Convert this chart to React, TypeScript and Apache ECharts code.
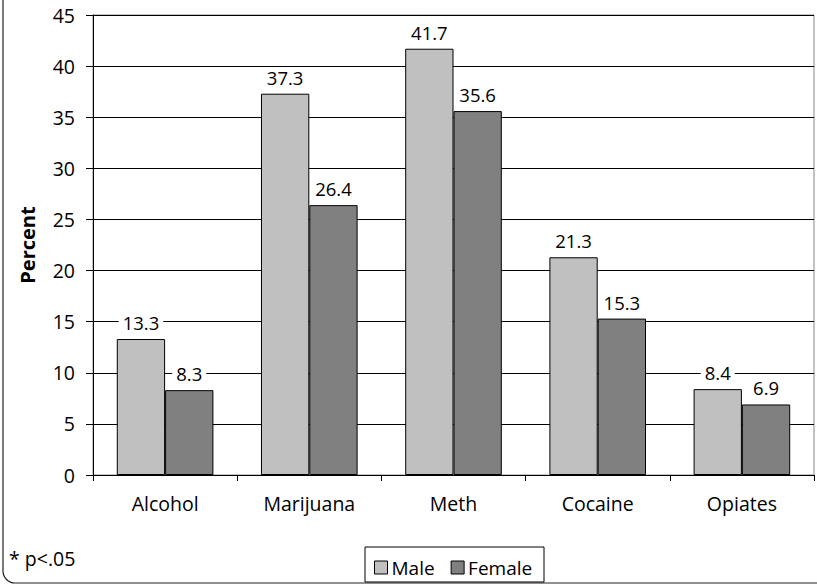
import React, { useEffect, useRef } from "react";
import * as echarts from "echarts";

const categories = ["Alcohol", "Marijuana", "Meth", "Cocaine", "Opiates"];
const maleValues = [13.3, 37.3, 41.7, 21.3, 8.4];
const femaleValues = [8.3, 26.4, 35.6, 15.3, 6.9];
const seriesNames = ["Male", "Female"];
const footnote = "* p<.05";
const yAxisTitle = "Percent";

const FONT = "'Open Sans', 'DejaVu Sans', sans-serif";

export default function App() {
  const ref = useRef<HTMLDivElement>(null);
  useEffect(() => {
    if (!ref.current) return;
    const chart = echarts.init(ref.current, null, { renderer: "svg" });
    const labelCfg = {
      show: true,
      position: "top",
      distance: 7,
      color: "#000",
      fontSize: 18.5,
      fontFamily: FONT,
      backgroundColor: "#fff",
      padding: [0, 4],
    };
    chart.setOption({
      animation: false,
      backgroundColor: "#fff",
      textStyle: { fontFamily: FONT },
      grid: {
        left: 93,
        right: 3,
        top: 15,
        bottom: 109,
        show: true,
        borderColor: "#888",
        borderWidth: 1,
      },
      graphic: [
        {
          type: "rect",
          shape: { x: 3, y: -30, width: 900, height: 613, r: 12 },
          style: { fill: "none", stroke: "#222", lineWidth: 1.2 },
          silent: true,
        },
        {
          type: "text",
          left: 9,
          top: 548,
          style: { text: footnote, fontSize: 19.5, fontFamily: FONT, fill: "#000" },
        },
        {
          type: "rect",
          shape: { x: 365, y: 547, width: 179, height: 35 },
          style: { fill: "none", stroke: "#000", lineWidth: 1 },
          silent: true,
        },
      ],
      legend: {
        data: seriesNames,
        left: 369,
        top: 553,
        itemWidth: 13,
        itemHeight: 13,
        itemGap: 16,
        icon: "rect",
        itemStyle: { borderColor: "#000", borderWidth: 1 },
        textStyle: { fontSize: 19, fontFamily: FONT, color: "#000", padding: [0, 0, 0, -1] },
      },
      xAxis: {
        type: "category",
        data: categories,
        axisLine: { lineStyle: { color: "#000", width: 1 } },
        axisTick: { show: true, length: 6, interval: 0, lineStyle: { color: "#000" } },
        axisLabel: { color: "#000", fontSize: 19.5, fontFamily: FONT, margin: 18 },
      },
      yAxis: {
        type: "value",
        min: 0,
        max: 45,
        interval: 5,
        name: yAxisTitle,
        nameLocation: "middle",
        nameGap: 56,
        nameTextStyle: { fontSize: 20, fontWeight: "bold", color: "#000", fontFamily: FONT },
        axisLine: { show: true, lineStyle: { color: "#000", width: 1 } },
        axisTick: { show: true, length: 7, lineStyle: { color: "#000" } },
        axisLabel: { color: "#000", fontSize: 19.5, fontFamily: FONT, margin: 18 },
        splitLine: { show: true, lineStyle: { color: "#000", width: 1 } },
      },
      series: [
        {
          name: seriesNames[0],
          type: "bar",
          data: maleValues,
          barGap: "0%",
          barCategoryGap: "33%",
          itemStyle: { color: "#c0c0c0", borderColor: "#000", borderWidth: 1 },
          label: labelCfg,
        },
        {
          name: seriesNames[1],
          type: "bar",
          data: femaleValues,
          barGap: "0%",
          barCategoryGap: "33%",
          itemStyle: { color: "#808080", borderColor: "#000", borderWidth: 1 },
          label: labelCfg,
        },
      ],
    });
    return () => chart.dispose();
  }, []);
  return (
    <div
      ref={ref}
      style={{ position: "fixed", left: 0, top: 0, width: 817, height: 584 }}
    />
  );
}
